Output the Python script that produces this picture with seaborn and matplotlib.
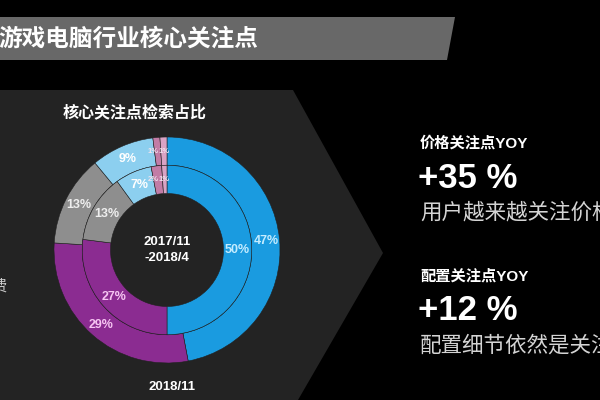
import matplotlib.pyplot as plt
import seaborn as sns
from matplotlib.patches import Polygon

sns.set_theme(style='dark', rc={'figure.facecolor': '#000000', 'axes.facecolor': '#000000'})
plt.rcParams['font.family'] = ['Liberation Sans', 'Noto Sans CJK SC', 'DejaVu Sans']

# Data
segments = ['seg_blue', 'seg_purple', 'seg_gray', 'seg_lightblue', 'seg_pink', 'seg_lightpink']
inner_vals = [50, 27, 13, 7, 2, 1]   # 2017/11-2018/4
outer_vals = [47, 29, 13, 9, 1, 1]   # 2018/11-...
seg_colors = ['#1a9be0', '#8b2c91', '#8e8e8e', '#8ccfef', '#c27ca6', '#d9a3c4']
label_colors = ['#c4ecff', '#f6c4f2', '#eeeeee', '#ffffff', '#f2e2ee', '#f2e2ee']
label_sizes = [9, 9, 9, 9, 5.5, 5.5]

title = '游戏电脑行业核心关注点'
subtitle = '核心关注点检索占比'
inner_period = '2017/11\n-2018/4'
outer_period = ['2018/11', '-2019/4']
left_fragment = '费'

kpi_titles = ['价格关注点YOY', '配置关注点YOY']
kpi_values = ['+35 %', '+12 %']
kpi_notes = ['用户越来越关注价格', '配置细节依然是关注重点']

fig = plt.figure(figsize=(6, 4), dpi=100)

# background layer in pixel coordinates
bg = fig.add_axes([0, 0, 1, 1])
bg.set_xlim(0, 600)
bg.set_ylim(400, 0)
bg.axis('off')

bg.add_patch(Polygon([(0, 17), (455, 17), (447, 60), (0, 60)], closed=True,
                     facecolor='#686868', edgecolor='none'))
bg.add_patch(Polygon([(0, 90), (293, 90), (383, 253), (298, 400), (0, 400)], closed=True,
                     facecolor='#232323', edgecolor='none'))

bg.text(-2, 39, title, color='white', fontsize=17, fontweight='bold', va='center', ha='left')
bg.text(135, 112, subtitle, color='white', fontsize=11.5, fontweight='bold', va='center', ha='center')
bg.text(-9, 286, left_fragment, color='#cccccc', fontsize=11, va='center', ha='left')
bg.text(172, 387, outer_period[0], color='white', fontsize=9.5, fontweight='bold',
        va='center', ha='center')
bg.text(172, 406, outer_period[1], color='white', fontsize=9.5, fontweight='bold',
        va='center', ha='center')

for i, (t, v, n) in enumerate(zip(kpi_titles, kpi_values, kpi_notes)):
    y0 = 143 + i * 133
    bg.text(420, y0, t, color='white', fontsize=11, fontweight='bold', va='center', ha='left')
    bg.text(418, y0 + 35, v, color='white', fontsize=25, fontweight='bold', va='center', ha='left')
    bg.text(420, y0 + 70, n, color='#d4d4d4', fontsize=15.5, va='center', ha='left')

# donut chart
cx, cy, r = 167, 250, 113
ax = fig.add_axes([(cx - r) / 600, (400 - cy - r) / 400, 2 * r / 600, 2 * r / 400])
ax.patch.set_alpha(0)

wp = dict(edgecolor='#202020', linewidth=0.4)
_, _, outer_txt = ax.pie(outer_vals, radius=1.0, colors=seg_colors, startangle=90,
                         counterclock=False, autopct='%d%%', pctdistance=0.88,
                         wedgeprops=dict(width=0.25, **wp))
_, _, inner_txt = ax.pie(inner_vals, radius=0.75, colors=seg_colors, startangle=90,
                         counterclock=False, autopct='%d%%', pctdistance=0.83,
                         wedgeprops=dict(width=0.25, **wp))

for txts in (outer_txt, inner_txt):
    for t, c, s in zip(txts, label_colors, label_sizes):
        t.set_color(c)
        t.set_fontsize(s)
        t.set_fontweight('bold')

# the two tiny slices sit side by side, spread their labels a little
for txts, yy in ((outer_txt, 0.87), (inner_txt, 0.62)):
    txts[4].set_position((-0.12, yy))
    txts[5].set_position((-0.03, yy))

ax.text(0, 0, inner_period, color='white', fontsize=9.5, fontweight='bold',
        ha='center', va='center', linespacing=1.5)
ax.set_xlim(-1, 1)
ax.set_ylim(-1, 1)
ax.set_aspect('equal')
ax.axis('off')

fig.savefig('out.png', dpi=100, facecolor='#000000')
